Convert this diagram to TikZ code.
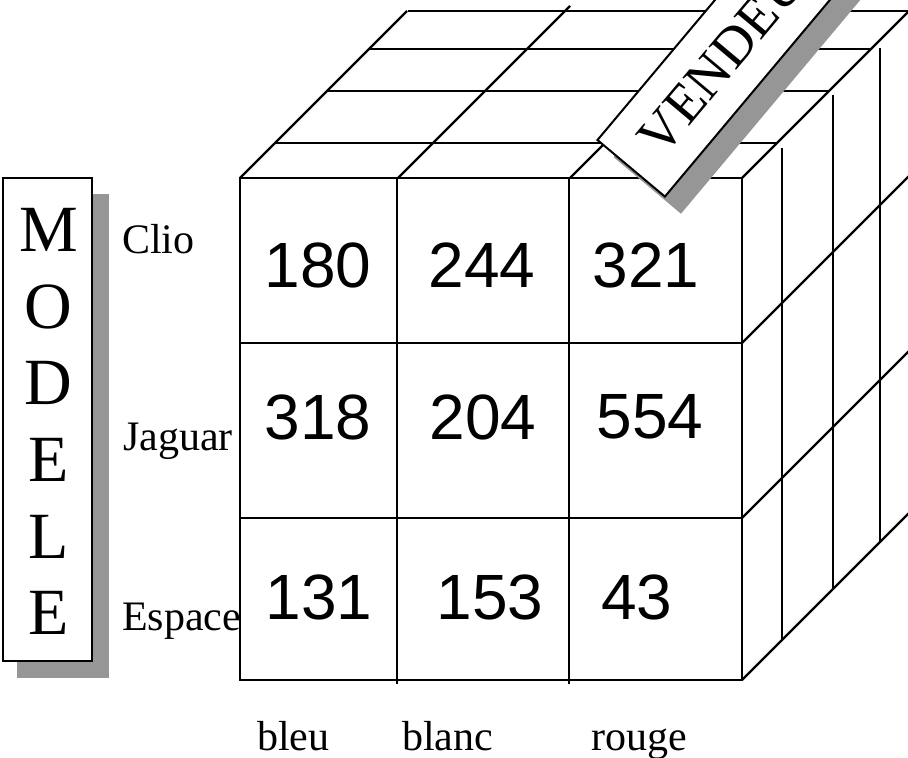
\documentclass[tikz,border=0pt]{standalone}
\usepackage{fontspec}
\setmainfont{Liberation Serif}
\newfontfamily\arialfont{Liberation Sans}
\definecolor{shadowgray}{RGB}{150,150,150}
\begin{document}
\begin{tikzpicture}[x=1pt,y=-1pt,
  grid/.style={line width=2.2pt, black},
  num/.style={font=\arialfont\fontsize{64}{70}\selectfont, inner sep=0pt},
  lab/.style={font=\fontsize{42}{48}\selectfont, inner sep=0pt, anchor=base west},
  vbox/.style={rotate=50, anchor=south west, minimum height=88pt, text width=360pt,
     inner xsep=28pt, inner ysep=0pt, align=left, font=\fontsize{55}{60}\selectfont},
]
\useasboundingbox (0,0) rectangle (908,758);
\clip (0,0) rectangle (908,758);
% ---- top face
\draw[grid] (275,143) -- (777,143);
\draw[grid] (327,91) -- (829,91);
\draw[grid] (369,49) -- (871,49);
\draw[grid] (408,11) -- (909,11);
\draw[grid] (240,178) -- (407,11);
\draw[grid] (398,178) -- (570,6);
\draw[grid] (570,178) -- (737,11);
\draw[grid] (742,178) -- (909,11);
% ---- right face
\draw[grid] (782,148) -- (782,640);
\draw[grid] (833,95) -- (833,589);
\draw[grid] (880,48) -- (880,542);
\draw[grid] (742,343) -- (909,176);
\draw[grid] (742,518) -- (909,351);
\draw[grid] (742,680) -- (909,513);
% ---- front face
\draw[grid] (240,178) rectangle (742,680);
\draw[grid] (397,178) -- (397,684);
\draw[grid] (569,178) -- (569,684);
\draw[grid] (240,343) -- (742,343);
\draw[grid] (240,518) -- (742,518);
% ---- VENDEUR label
\node[vbox, fill=shadowgray] (vshadow) at (681,214) {};
\node[vbox, draw, line width=2pt, fill=white] (vend) at (665,198) {VENDEUR};
% ---- MODELE label
\fill[shadowgray] (17,194) rectangle (109,678);
\draw[line width=2pt, fill=white] (3,178) rectangle (92,661);
\node[font=\fontsize{66}{76.6}\selectfont, align=center, inner sep=0pt] (modele) at (48.5,421.5) {M\\O\\D\\E\\L\\E};
% ---- row labels
\node[lab] (clio) at (122,253) {Clio};
\node[lab] (jaguar) at (123,450) {Jaguar};
\node[lab] (espace) at (122,630) {Espace};
% ---- column labels
\node[lab] (bleu) at (257,750) {bleu};
\node[lab] (blanc) at (402,750) {blanc};
\node[lab] (rouge) at (591,750) {rouge};
% ---- values
\node[num] (v11) at (318,265) {180};
\node[num] (v12) at (482,265) {244};
\node[num] (v13) at (646,265) {321};
\node[num] (v21) at (318,417) {318};
\node[num] (v22) at (483,417) {204};
\node[num] (v23) at (650,417) {554};
\node[num] (v31) at (319,597) {131};
\node[num] (v32) at (490,597) {153};
\node[num] (v33) at (637,597) {43};
\end{tikzpicture}
\end{document}
